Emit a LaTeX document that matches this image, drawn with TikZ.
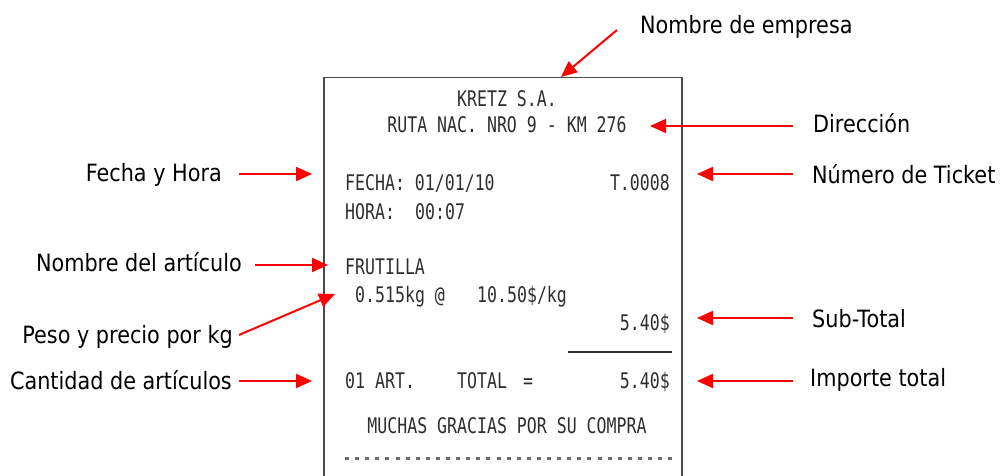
\documentclass[tikz,border=0pt]{standalone}
\usepackage{fontspec}
\usetikzlibrary{arrows.meta}
\newfontfamily\lblfont[FakeStretch=0.873]{DejaVu Sans}
\newfontfamily\rcptfont[FakeStretch=0.77]{DejaVu Sans Mono}
\definecolor{rcgray}{HTML}{2E2E2E}
\definecolor{framegray}{HTML}{4A4A4A}
\definecolor{arrred}{HTML}{FF0000}
\tikzset{
  lbl/.style={font=\lblfont\fontsize{23.8bp}{28bp}\selectfont, inner sep=0pt, text=black},
  rc/.style={font=\rcptfont\fontsize{21.5bp}{24bp}\selectfont, inner sep=0pt, text=rcgray},
  arr/.style={draw=arrred, line width=2bp, -{Triangle[length=16bp,width=14bp]}},
  frame/.style={draw=framegray, line width=1.5bp},
}
\begin{document}
\begin{tikzpicture}[x=1bp,y=-1bp]
\useasboundingbox (0,0) rectangle (1002,476);
% receipt frame
\draw[frame] (324,476) -- (324,77.5) -- (682,77.5) -- (682,476);
% receipt text
\node[rc, anchor=base] (r1) at (507,107) {KRETZ S.A.};
\node[rc, anchor=base] (r2) at (507,133) {RUTA NAC. NRO 9 - KM 276};
\node[rc, anchor=base west] (r3) at (345,190.5) {FECHA: 01/01/10};
\node[rc, anchor=base east] (r3b) at (670,190.5) {T.0008};
\node[rc, anchor=base west] (r4) at (345,220) {HORA:};
\node[rc, anchor=base west] (r4b) at (415,220) {00:07};
\node[rc, anchor=base west] (r5) at (345,275) {FRUTILLA};
\node[rc, anchor=base west] (r6) at (355,303) {0.515kg @};
\node[rc, anchor=base west] (r6b) at (477,303) {10.50\$/kg};
\node[rc, anchor=base east] (r7) at (670,331) {5.40\$};
\draw[draw=rcgray, line width=2bp] (568,352) -- (672,352);
\node[rc, anchor=base west] (r8) at (345,389) {01 ART.};
\node[rc, anchor=base west] (r8b) at (457,389) {TOTAL};
\node[rc, anchor=base west] (r8c) at (523,389) {=};
\node[rc, anchor=base east] (r8d) at (670,389) {5.40\$};
\node[rc, anchor=base] (r9) at (507,433) {MUCHAS GRACIAS POR SU COMPRA};
\draw[draw=rcgray!70, line width=3bp, dash pattern=on 4bp off 6.1bp] (345,458) -- (672,458);
% labels
\node[lbl, anchor=base west] (empresa) at (640,34) {Nombre de empresa};
\node[lbl, anchor=base west] (direccion) at (813,133) {Dirección};
\node[lbl, anchor=base east] (fecha) at (222,182) {Fecha y Hora};
\node[lbl, anchor=base west] (ticket) at (812,184) {Número de Ticket};
\node[lbl, anchor=base east] (articulo) at (242,272) {Nombre del artículo};
\node[lbl, anchor=base east] (peso) at (233,344) {Peso y precio por kg};
\node[lbl, anchor=base west] (subtotal) at (812,328) {Sub-Total};
\node[lbl, anchor=base east] (cantidad) at (232,390) {Cantidad de artículos};
\node[lbl, anchor=base west] (importe) at (810,387) {Importe total};
% arrow end points
\coordinate (empS) at (617,30);   \coordinate (empT) at (561,77);
\coordinate (dirS) at (793,126);  \coordinate (dirT) at (650,126);
\coordinate (fecS) at (239,174);  \coordinate (fecT) at (312,174);
\coordinate (ticS) at (793,174);  \coordinate (ticT) at (697,174);
\coordinate (artS) at (255,265);  \coordinate (artT) at (328,265);
\coordinate (pesS) at (239,335);  \coordinate (pesT) at (335,294);
\coordinate (subS) at (793,318);  \coordinate (subT) at (697,318);
\coordinate (canS) at (239,381);  \coordinate (canT) at (312,381);
\coordinate (impS) at (793,381);  \coordinate (impT) at (697,381);
\draw[arr] (empS) -- (empT);
\draw[arr] (dirS) -- (dirT);
\draw[arr] (fecS) -- (fecT);
\draw[arr] (ticS) -- (ticT);
\draw[arr] (artS) -- (artT);
\draw[arr] (pesS) -- (pesT);
\draw[arr] (subS) -- (subT);
\draw[arr] (canS) -- (canT);
\draw[arr] (impS) -- (impT);
\end{tikzpicture}
\end{document}
